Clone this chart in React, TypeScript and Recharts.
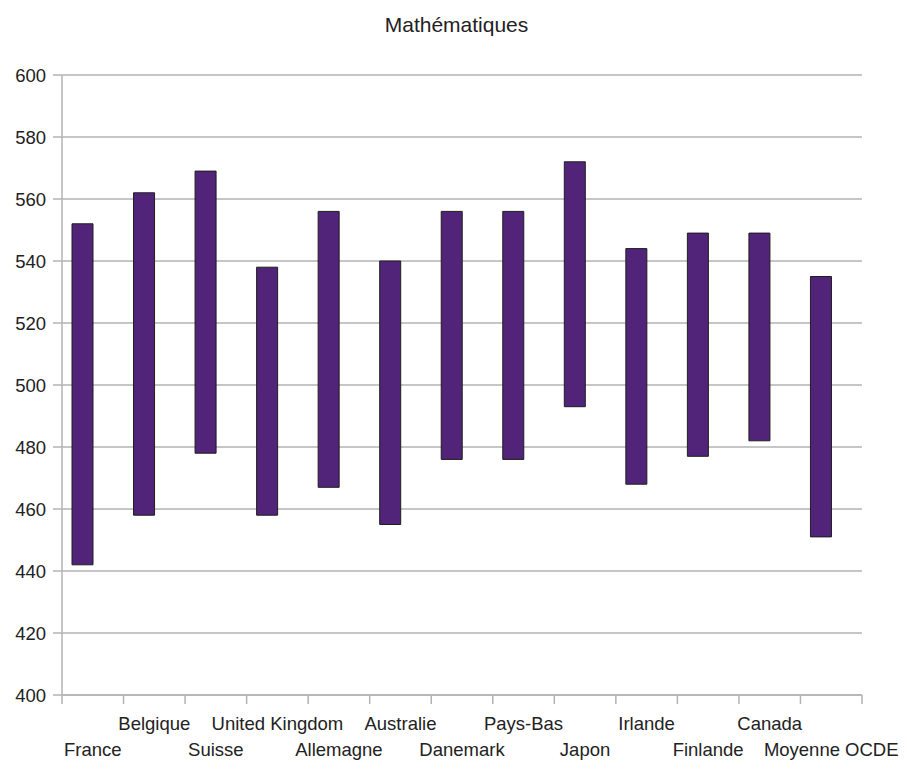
import React from "react";
import {
  BarChart,
  Bar,
  XAxis,
  YAxis,
  CartesianGrid,
} from "recharts";

// Score ranges (low / high) per country
const countries = [
  "France",
  "Belgique",
  "Suisse",
  "United Kingdom",
  "Allemagne",
  "Australie",
  "Danemark",
  "Pays-Bas",
  "Japon",
  "Irlande",
  "Finlande",
  "Canada",
  "Moyenne OCDE",
];
const lowScores = [442, 458, 478, 458, 467, 455, 476, 476, 493, 468, 477, 482, 451];
const highScores = [552, 562, 569, 538, 556, 540, 556, 556, 572, 544, 549, 549, 535];
const yTicks = [400, 420, 440, 460, 480, 500, 520, 540, 560, 580, 600];

const data = countries.map((name, i) => ({
  name,
  range: [lowScores[i], highScores[i]],
}));

const FONT = "'Liberation Sans', Arial, sans-serif";
const GRID = "#b3b3b3";
const TEXT = "#222";

// Two-row staggered category labels, with tick marks on the band edges
const CategoryTick = (props: any) => {
  const { x, y, payload, index } = props;
  const half = payload?.offset ?? 799 / 13 / 2;
  const last = index === countries.length - 1;
  return (
    <g>
      <line x1={x - half} x2={x - half} y1={y} y2={y + 9} stroke={GRID} strokeWidth={1.5} />
      {last && (
        <line x1={x + half} x2={x + half} y1={y} y2={y + 9} stroke={GRID} strokeWidth={1.5} />
      )}
      <text
        x={x}
        y={y + (index % 2 === 1 ? 35 : 61)}
        textAnchor="middle"
        fontFamily={FONT}
        fontSize={18.5}
        fill={TEXT}
      >
        {payload.value}
      </text>
    </g>
  );
};

export default function App() {
  return (
    <div style={{ position: "absolute", left: 0, top: 0, width: 907, height: 780, background: "#fff" }}>
      <div
        style={{
          position: "absolute",
          top: 14,
          left: 3,
          width: 907,
          textAlign: "center",
          fontFamily: FONT,
          fontSize: 21,
          lineHeight: "21px",
          color: TEXT,
        }}
      >
        Mathématiques
      </div>
      <BarChart
        width={907}
        height={780}
        data={data}
        margin={{ top: 75, right: 45, left: 0, bottom: 25 }}
        barGap={0}
        barSize={21}
      >
        <CartesianGrid vertical={false} stroke={GRID} strokeWidth={1.5} />
        <XAxis
          dataKey="name"
          interval={0}
          height={60}
          tickLine={false}
          tickSize={0}
          tickMargin={0}
          axisLine={{ stroke: GRID, strokeWidth: 1.5 }}
          tick={<CategoryTick />}
        />
        <YAxis
          domain={[400, 600]}
          ticks={yTicks}
          width={62}
          tickSize={9}
          tickMargin={7}
          axisLine={{ stroke: GRID, strokeWidth: 1.5 }}
          tickLine={{ stroke: GRID, strokeWidth: 1.5 }}
          tick={{ fontFamily: FONT, fontSize: 18.5, fill: TEXT }}
        />
        <YAxis
          yAxisId="frame"
          orientation="right"
          domain={[400, 600]}
          width={0}
          tick={false}
          tickLine={false}
          axisLine={{ stroke: GRID, strokeWidth: 1.5 }}
        />
        <Bar
          dataKey="range"
          fill="#512379"
          stroke="#1e1e1e"
          strokeWidth={1}
          isAnimationActive={false}
        />
        {/* empty companion series keeps each bar on the left of its band */}
        <Bar dataKey="spacer" fill="none" isAnimationActive={false} />
      </BarChart>
    </div>
  );
}
